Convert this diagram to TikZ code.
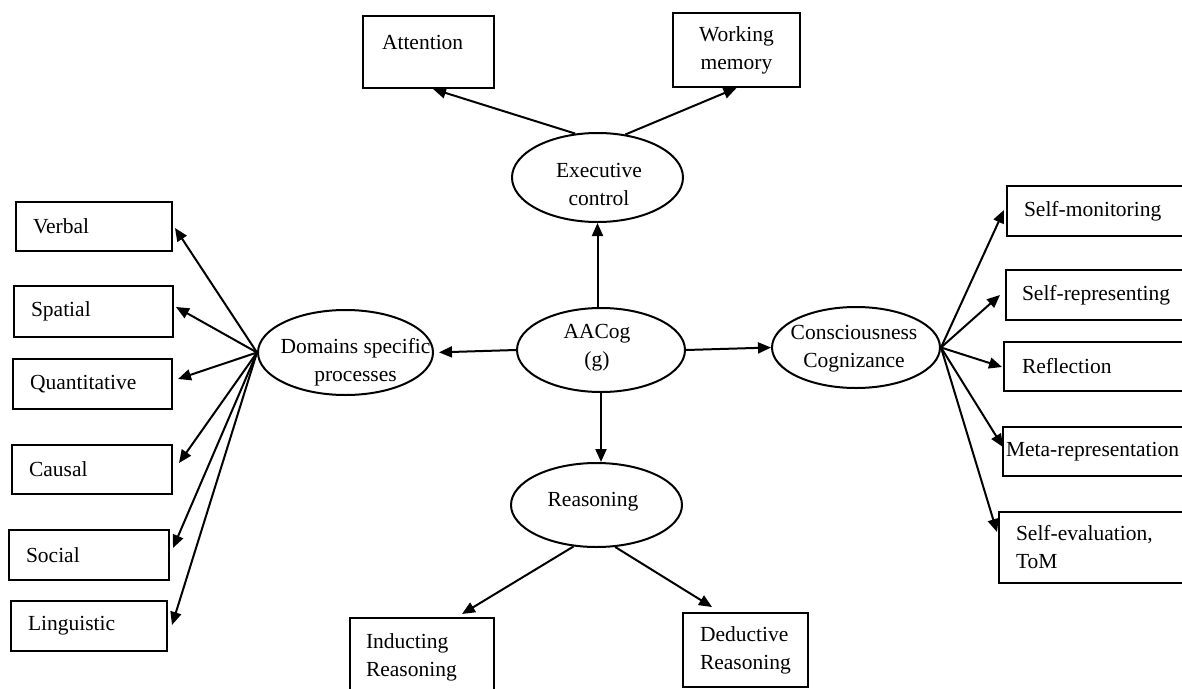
\documentclass[tikz,border=0pt]{standalone}
\usepackage{fontspec}
\setmainfont{Liberation Serif}
\usetikzlibrary{arrows.meta,calc,shapes.geometric}
\begin{document}
\begin{tikzpicture}[x=1pt,y=-1pt,
  every node/.style={font={\fontsize{21.5}{28}\selectfont}},
  box/.style={draw, line width=2pt, rectangle, align=left, inner ysep=0pt, inner xsep=17pt},
  ell/.style={draw, line width=2pt, ellipse, inner sep=0pt},
  lab/.style={align=center, inner sep=0pt},
  arr/.style={line width=2pt, -{Triangle[length=13pt,width=11pt]}}]
\useasboundingbox (0,0) rectangle (1182,688);
\clip (0,0) rectangle (1182,688);

% top boxes
\node[box, inner xsep=19pt, text width=93pt, minimum height=72pt, text height=14.5pt, text depth=19.5pt] (att) at (428.5,52) {Attention};
\node[box, align=center, text width=93pt, minimum height=74pt] (wm) at (736.5,50) {Working\\memory};

% left boxes
\node[box, text width=122pt, minimum height=49pt] (verbal) at (94,226.5) {Verbal};
\node[box, text width=125pt, minimum height=51pt] (spatial) at (93.5,311.5) {Spatial};
\node[box, text width=125pt, minimum height=50pt] (quant) at (92.5,384) {Quantitative};
\node[box, text width=126pt, minimum height=49pt] (causal) at (92,469.5) {Causal};
\node[box, text width=126pt, minimum height=50pt] (social) at (89,555) {Social};
\node[box, text width=122pt, minimum height=50pt] (ling) at (89,626) {Linguistic};

% right boxes
\node[box, text width=149pt, minimum height=50pt] (smon) at (1098.5,211) {Self-monitoring};
\node[box, inner xsep=16pt, text width=152pt, minimum height=50pt] (srep) at (1098,295) {Self-representing};
\node[box, inner xsep=18pt, text width=150pt, minimum height=49pt] (refl) at (1097,366.5) {Reflection};
\node[box, inner xsep=3pt, text width=181pt, minimum height=49pt] (meta) at (1096.5,451.5) {Meta-representation};
\node[box, text width=157pt, minimum height=71pt] (seval) at (1094.5,547.5) {Self-evaluation,\\ToM};

% bottom boxes
\node[box, inner xsep=16pt, text width=112pt, minimum height=78pt] (ind) at (422,657) {Inducting\\Reasoning};
\node[box, inner xsep=17pt, text width=91pt, minimum height=74pt] (ded) at (745.5,650) {Deductive\\Reasoning};

% ellipses
\node[ell, minimum width=171pt, minimum height=89pt] (exec) at (597.5,177.5) {};
\node[ell, minimum width=175pt, minimum height=85pt] (dom) at (345.5,352.5) {};
\node[ell, minimum width=168pt, minimum height=84pt] (aacog) at (601,350) {};
\node[ell, minimum width=168pt, minimum height=81pt] (cons) at (856,347.5) {};
\node[ell, minimum width=171pt, minimum height=84pt] (reas) at (596.5,505) {};

\node[lab] (execT) at (599,184) {Executive\\control};
\node[lab] (domT) at (355.5,362.5) {Domains specific\\processes};
\node[lab] (aacogT) at (597,348) {AACog\\(g)};
\node[lab] (consT) at (854,349) {Consciousness\\Cognizance};
\node[lab] (reasT) at (593,502) {Reasoning};

% arrows
\draw[arr] (exec.117) -- ($(att.south)+(4.5,0)$);
\draw[arr] (exec.57) -- (wm.south);
\draw[arr] (exec.south |- aacog.north) -- (exec.south);
\draw[arr] (aacog.south) -- (aacog.south |- reas.north);
\draw[arr, shorten >=5pt] (aacog.west) -- (dom.east);
\draw[arr] (aacog.east) -- (cons.west);
\draw[arr] (reas.241) -- ($(ind.north)+(40,-3)$);
\draw[arr] (reas.294) -- ($(ded.north)+(-33.5,-5)$);

\draw[arr] (dom.west) -- ($(verbal.east)+(2,1.5)$);
\draw[arr] (dom.west) -- ($(spatial.east)+(2,-4.5)$);
\draw[arr] (dom.west) -- ($(quant.east)+(5,-5)$);
\draw[arr] (dom.west) -- ($(causal.east)+(6,-6.5)$);
\draw[arr] (dom.west) -- ($(social.east)+(3,-7)$);
\draw[arr] (dom.west) -- ($(ling.east)+(4,-1)$);

\draw[arr] (cons.east) -- ($(smon.west)+(-2,-1)$);
\draw[arr] (cons.east) -- ($(srep.west)+(-5,0)$);
\draw[arr] (cons.east) -- ($(refl.west)+(-1,0.5)$);
\draw[arr] (cons.east) -- ($(meta.west)+(1,-4.5)$);
\draw[arr] (cons.east) -- ($(seval.west)+(-1,-15.5)$);
\end{tikzpicture}
\end{document}
